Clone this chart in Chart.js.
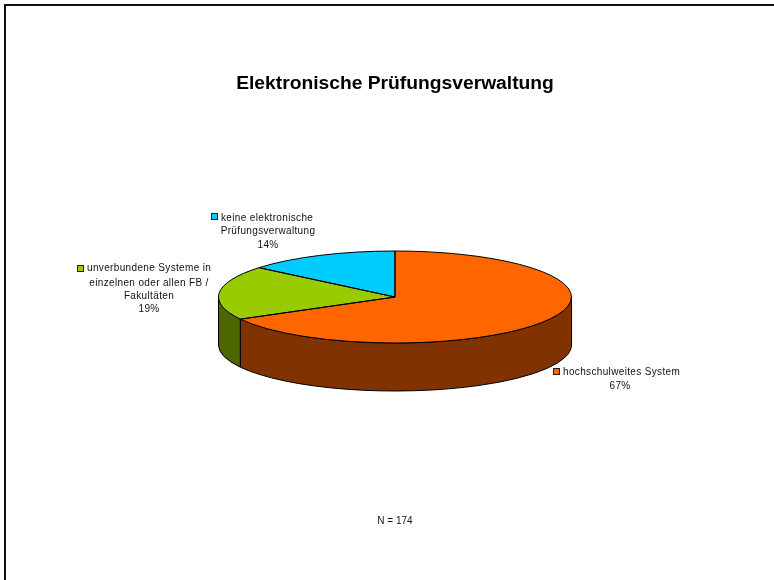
<!DOCTYPE html>
<html lang="de">
<head>
<meta charset="utf-8">
<title>Elektronische Prüfungsverwaltung</title>
<script src="https://cdn.jsdelivr.net/npm/chart.js@4"></script>
<style>
html,body{margin:0;padding:0;background:#fff;overflow:hidden}
#wrap{position:relative;width:774px;height:580px}
#frame{position:absolute;left:4px;top:4px;right:0;bottom:0;border-left:2px solid #111;border-top:2px solid #111;pointer-events:none}
canvas{display:block;filter:blur(0.35px)}
</style>
</head>
<body>
<div id="wrap"><canvas id="c" width="774" height="580"></canvas><div id="frame"></div></div>
<script>
const chartTitle = 'Elektronische Prüfungsverwaltung';
const footnote = 'N = 174';
const categories = ['hochschulweites System', 'unverbundene Systeme in einzelnen oder allen FB / Fakultäten', 'keine elektronische Prüfungsverwaltung'];
const shares = [67, 19, 14];
const topColors = ['#FF6600', '#99CC00', '#00CCFF'];
const sideColors = ['#803300', '#4D6600', '#006680'];
const labelLines = [
  ['hochschulweites System'],
  ['unverbundene Systeme in', 'einzelnen oder allen FB /', 'Fakultäten'],
  ['keine elektronische', 'Prüfungsverwaltung']
];
// placement of each callout, relative to the page
const calloutLayout = [
  {swatch: [553, 368], firstLine: [563, 372], center: 620, ys: [372, 386]},
  {swatch: [77, 265], firstLine: [87, 268], center: 149, ys: [268, 283, 296, 309]},
  {swatch: [211, 213], firstLine: [221, 218], center: 268, ys: [218, 231, 245]}
];
const tilt = 46 / 176.5;
const depth = 48;

const pie3d = {
  id: 'pie3d',
  beforeDatasetsDraw(chart) {
    const ctx = chart.ctx, arcs = chart.getDatasetMeta(0).data;
    const cx = arcs[0].x, cy = arcs[0].y, rx = arcs[0].outerRadius, ry = rx * tilt;
    arcs.forEach((arc, i) => {
      const a = Math.max(arc.startAngle, 0), b = Math.min(arc.endAngle, Math.PI);
      if (b <= a) return;
      ctx.beginPath();
      ctx.ellipse(cx, cy, rx, ry, 0, a, b);
      ctx.ellipse(cx, cy + depth, rx, ry, 0, b, a, true);
      ctx.closePath();
      ctx.fillStyle = sideColors[i];
      ctx.fill();
      ctx.strokeStyle = '#000';
      ctx.lineWidth = 1;
      ctx.stroke();
    });
    ctx.save();
    ctx.translate(0, cy);
    ctx.scale(1, tilt);
    ctx.translate(0, -cy);
  },
  afterDatasetsDraw(chart) {
    const ctx = chart.ctx, arcs = chart.getDatasetMeta(0).data;
    ctx.restore();
    const cx = arcs[0].x, cy = arcs[0].y, rx = arcs[0].outerRadius, ry = rx * tilt;
    ctx.strokeStyle = '#000';
    ctx.lineWidth = 1;
    arcs.forEach(arc => {
      ctx.beginPath();
      ctx.moveTo(cx, cy);
      ctx.ellipse(cx, cy, rx, ry, 0, arc.startAngle, arc.endAngle);
      ctx.closePath();
      ctx.stroke();
    });
    ctx.save();
    ctx.font = '10px "Liberation Sans", Arial, sans-serif';
    ctx.letterSpacing = '0.35px';
    ctx.textBaseline = 'middle';
    calloutLayout.forEach((pos, i) => {
      ctx.fillStyle = topColors[i];
      ctx.fillRect(pos.swatch[0], pos.swatch[1], 7, 7);
      ctx.strokeStyle = '#222';
      ctx.strokeRect(pos.swatch[0] + 0.5, pos.swatch[1] + 0.5, 6, 6);
      ctx.fillStyle = '#111';
      const lines = labelLines[i].concat(shares[i] + '%');
      lines.forEach((line, j) => {
        if (j === 0) {
          ctx.textAlign = 'left';
          ctx.fillText(line, pos.firstLine[0], pos.firstLine[1]);
        } else {
          ctx.textAlign = 'center';
          ctx.fillText(line, pos.center, pos.ys[j]);
        }
      });
    });
    ctx.restore();
  }
};

new Chart(document.getElementById('c'), {
  type: 'pie',
  data: {
    labels: categories,
    datasets: [{data: shares, backgroundColor: topColors, borderWidth: 0, hoverOffset: 0, clip: false}]
  },
  options: {
    responsive: false,
    animation: false,
    events: [],
    layout: {padding: {left: 218.5, right: 202.5, top: 0, bottom: 0}},
    plugins: {
      legend: {display: false},
      tooltip: {enabled: false},
      title: {
        display: true, text: chartTitle, color: '#000',
        font: {family: '"Liberation Sans", Arial, sans-serif', size: 19.25, weight: 'bold', lineHeight: 1.2},
        padding: {top: 72.5, bottom: 24.9}
      },
      subtitle: {
        display: true, position: 'bottom', text: footnote, color: '#111',
        font: {family: '"Liberation Sans", Arial, sans-serif', size: 10, weight: 'normal', lineHeight: 1.2},
        padding: {top: 41.5, bottom: 53}
      }
    }
  },
  plugins: [pie3d]
});
</script>
</body>
</html>
